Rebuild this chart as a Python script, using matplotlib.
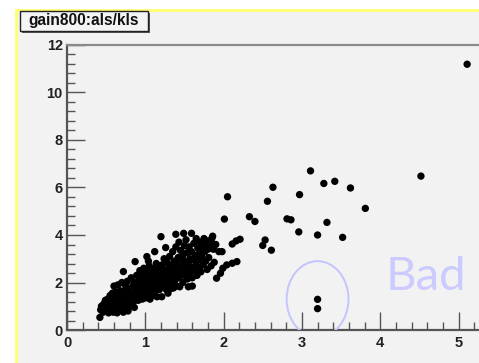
import matplotlib
matplotlib.use("Agg")
import matplotlib.pyplot as plt
from matplotlib.patches import Ellipse, Rectangle
from matplotlib.ticker import MultipleLocator
import numpy as np

# points (als/kls vs gain800), row by row in x
pts = [
    (0.42, 0.53), (0.43, 0.85), (0.44, 1.0), (0.46, 0.75), (0.47, 1.1), (0.48, 0.95), (0.49, 1.25), (0.50, 0.85),
    (0.51, 1.05), (0.52, 1.3), (0.53, 0.72), (0.54, 1.15), (0.55, 1.45), (0.56, 0.9), (0.57, 1.2), (0.58, 1.55),
    (0.59, 0.75), (0.59, 1.05), (0.60, 1.35), (0.60, 1.85),
    (0.61, 0.95), (0.62, 1.6), (0.63, 1.15), (0.64, 0.72), (0.64, 1.4), (0.65, 1.9), (0.66, 1.05), (0.67, 1.25),
    (0.68, 1.65), (0.68, 0.85), (0.69, 1.45), (0.70, 1.1), (0.70, 2.0),
    (0.71, 1.3), (0.72, 2.46), (0.72, 0.75), (0.73, 1.6), (0.74, 1.0), (0.75, 1.85), (0.76, 1.2), (0.77, 1.45),
    (0.77, 2.05), (0.78, 0.8), (0.79, 1.7), (0.80, 1.3), (0.80, 1.0),
    (0.81, 1.55), (0.82, 2.2), (0.83, 1.15), (0.84, 1.85), (0.85, 1.4), (0.86, 2.0), (0.87, 2.88), (0.87, 1.25),
    (0.88, 1.65), (0.89, 2.3), (0.90, 1.5), (0.90, 1.9), (0.86, 0.95),
    (0.91, 1.25), (0.92, 2.1), (0.93, 1.7), (0.93, 2.5), (0.94, 1.45), (0.95, 1.95), (0.96, 2.25), (0.96, 1.3),
    (0.97, 1.8), (0.98, 2.6), (0.98, 1.55), (0.99, 2.05), (1.00, 1.35), (1.00, 2.35), (1.00, 1.7),
    (1.01, 1.95), (1.02, 3.09), (1.02, 2.2), (1.03, 1.5), (1.03, 2.5), (1.04, 1.8), (1.05, 2.05), (1.05, 2.7),
    (1.06, 1.3), (1.06, 2.3), (1.07, 1.65), (1.07, 2.0), (1.08, 2.55), (1.08, 1.9), (1.09, 2.2), (1.09, 1.45),
    (1.10, 2.4), (1.10, 1.75), (1.04, 2.9),
    (1.11, 2.05), (1.12, 3.30), (1.12, 2.6), (1.12, 1.6), (1.13, 2.25), (1.14, 1.85), (1.14, 2.8), (1.15, 2.1),
    (1.15, 1.4), (1.16, 2.45), (1.17, 1.95), (1.17, 2.7), (1.18, 2.2), (1.18, 1.7), (1.19, 2.5), (1.20, 3.93),
    (1.20, 2.0), (1.21, 1.4),
    (1.21, 2.3), (1.22, 2.75), (1.23, 1.85), (1.23, 2.15), (1.24, 3.0), (1.25, 2.5), (1.26, 3.47), (1.26, 2.05),
    (1.27, 1.7), (1.27, 2.35), (1.28, 2.85), (1.29, 2.2), (1.30, 1.95), (1.30, 2.6), (1.29, 1.55),
    (1.31, 3.1), (1.32, 2.4), (1.33, 2.0), (1.33, 1.75), (1.34, 2.7), (1.35, 3.3), (1.35, 2.25), (1.36, 1.77),
    (1.37, 2.55), (1.37, 2.9), (1.38, 2.1), (1.39, 4.03), (1.39, 3.5), (1.40, 2.35), (1.40, 1.85),
    (1.41, 2.75), (1.42, 3.05), (1.43, 3.7), (1.43, 2.2), (1.44, 1.82), (1.45, 2.55), (1.45, 3.35), (1.46, 2.95),
    (1.47, 2.4), (1.48, 3.15), (1.48, 2.0), (1.49, 4.07), (1.49, 2.7), (1.50, 3.55), (1.50, 2.3),
    (1.51, 2.9), (1.52, 3.8), (1.52, 2.55), (1.53, 3.25), (1.54, 2.15), (1.55, 1.82), (1.55, 2.75), (1.56, 3.5),
    (1.57, 3.0), (1.57, 2.4), (1.58, 2.65), (1.59, 4.07), (1.59, 3.3), (1.60, 2.2), (1.60, 1.85),
    (1.61, 2.95), (1.62, 3.65), (1.63, 2.5), (1.64, 3.15), (1.65, 2.75), (1.65, 3.85), (1.66, 2.3), (1.67, 3.45),
    (1.68, 2.95), (1.69, 2.6), (1.70, 3.3), (1.70, 3.7),
    (1.71, 2.45), (1.72, 3.1), (1.73, 3.55), (1.74, 2.75), (1.75, 3.85), (1.76, 3.3), (1.77, 2.9), (1.78, 3.6),
    (1.79, 2.55), (1.80, 3.4), (1.80, 3.75),
    (1.81, 3.05), (1.82, 3.55), (1.84, 3.7), (1.85, 3.86), (1.86, 3.95), (1.87, 3.4), (1.88, 2.85), (1.90, 3.6),
    (1.84, 2.7),
    (1.91, 2.18), (1.96, 2.39), (1.98, 3.30), (1.99, 2.60), (2.04, 2.74), (2.01, 4.67), (2.05, 5.61), (2.11, 2.81),
    (2.17, 2.88), (2.11, 3.62), (2.16, 3.75), (2.21, 3.82), (1.94, 3.3),
    # sparse part
    (2.33, 4.77), (2.40, 4.57), (2.50, 3.56), (2.53, 3.79), (2.61, 3.36), (2.56, 5.42), (2.63, 6.01),
    (2.81, 4.68), (2.86, 4.64), (2.96, 4.13), (2.97, 5.70), (3.11, 6.70), (3.20, 4.0), (3.28, 6.17),
    (3.32, 4.53), (3.42, 6.26), (3.52, 3.90), (3.62, 5.98), (3.81, 5.12), (4.52, 6.48), (5.11, 11.19),
    # the two "bad" ones
    (3.20, 1.29), (3.20, 0.90),
]
gain800 = np.array([p[0] for p in pts])
als_kls = np.array([p[1] for p in pts])

title = "gain800:als/kls"

fig = plt.figure(figsize=(4.79, 3.63), dpi=100)
fig.patch.set_facecolor("white")

# ROOT canvas panel with yellow edge
panel = Rectangle((16 / 479, -0.1), 1.2, 1 - 10 / 363 + 0.1, transform=fig.transFigure,
                  facecolor="#f2f2f2", edgecolor="#ffff70", linewidth=2.0, zorder=-5)
fig.patches.append(panel)

ax = fig.add_axes([67 / 479, 33 / 363, (482 - 67) / 479, (330 - 45) / 363])
ax.set_facecolor("#f2f2f2")
ax.scatter(gain800, als_kls, s=28, color="black", edgecolors="none", zorder=3)

ax.set_xlim(0, 5.3)
ax.set_ylim(0, 12)
ax.xaxis.set_major_locator(MultipleLocator(1))
ax.xaxis.set_minor_locator(MultipleLocator(0.2))
ax.yaxis.set_major_locator(MultipleLocator(2))
ax.yaxis.set_minor_locator(MultipleLocator(0.4))
ax.tick_params(which="both", direction="in", color="#555555", width=1.0)
ax.tick_params(which="major", length=13)
ax.tick_params(which="minor", length=6)
ax.tick_params(axis="x", pad=4)
ax.tick_params(axis="y", pad=3)
for lab in ax.get_xticklabels() + ax.get_yticklabels():
    lab.set_fontfamily("Liberation Sans")
    lab.set_fontweight("bold")
    lab.set_fontsize(10.5)
    lab.set_color("#222222")

ax.spines["left"].set_color("#555555")
ax.spines["bottom"].set_color("#555555")
ax.spines["top"].set_color("#8a8a8a")
ax.spines["right"].set_visible(False)
for s in ["left", "bottom", "top"]:
    ax.spines[s].set_linewidth(1.6)

# the "Bad" mark
ax.add_patch(Ellipse((3.2, 1.3), 0.79, 3.2, fill=False, edgecolor="#c4c4ff", linewidth=1.4, zorder=4))
ax.text(4.07, 1.68, "Bad", fontfamily="Lato", fontsize=34, color="#cbcbff", ha="left", va="baseline", zorder=2)

# title box in the corner
fig.patches.append(Rectangle((22 / 479, 1 - 33 / 363), 128 / 479, 20 / 363, transform=fig.transFigure,
                             facecolor="#555555", edgecolor="none", zorder=1))
fig.patches.append(Rectangle((20 / 479, 1 - 31 / 363), 128 / 479, 20 / 363, transform=fig.transFigure,
                             facecolor="#f4f4f4", edgecolor="#222222", linewidth=1.0, zorder=2))
fig.text(84 / 479, 1 - 21 / 363, title, ha="center", va="center", fontfamily="Liberation Sans",
         fontweight="bold", fontsize=11.2, color="#111111", zorder=3)

fig.savefig("out.png", dpi=100)
